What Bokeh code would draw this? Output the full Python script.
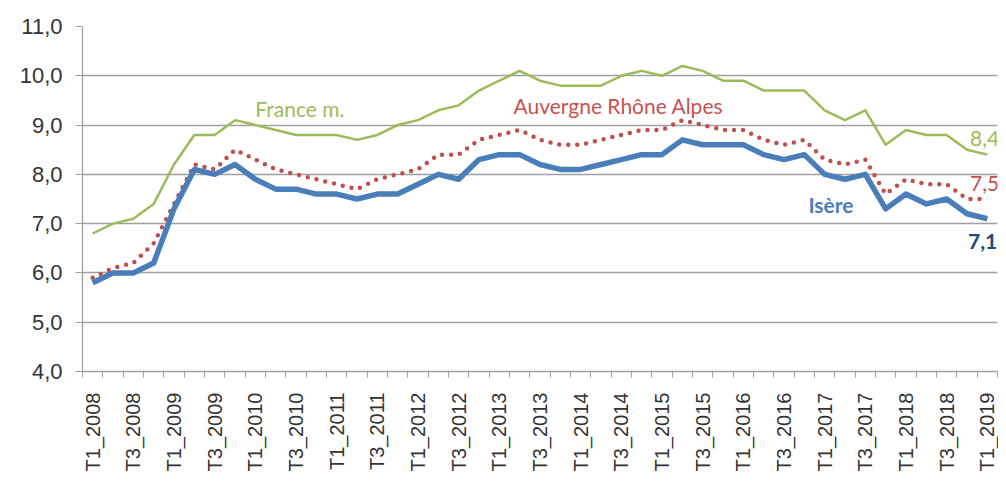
import math
from bokeh.plotting import figure
from bokeh.models import FixedTicker, Range1d, Label
from bokeh.embed import file_html
from bokeh.resources import INLINE

quarters = ["T1_2008", "T2_2008", "T3_2008", "T4_2008",
            "T1_2009", "T2_2009", "T3_2009", "T4_2009",
            "T1_2010", "T2_2010", "T3_2010", "T4_2010",
            "T1_2011", "T2_2011", "T3_2011", "T4_2011",
            "T1_2012", "T2_2012", "T3_2012", "T4_2012",
            "T1_2013", "T2_2013", "T3_2013", "T4_2013",
            "T1_2014", "T2_2014", "T3_2014", "T4_2014",
            "T1_2015", "T2_2015", "T3_2015", "T4_2015",
            "T1_2016", "T2_2016", "T3_2016", "T4_2016",
            "T1_2017", "T2_2017", "T3_2017", "T4_2017",
            "T1_2018", "T2_2018", "T3_2018", "T4_2018",
            "T1_2019"]

france = [6.8, 7.0, 7.1, 7.4, 8.2, 8.8, 8.8, 9.1, 9.0, 8.9, 8.8, 8.8, 8.8, 8.7, 8.8,
          9.0, 9.1, 9.3, 9.4, 9.7, 9.9, 10.1, 9.9, 9.8, 9.8, 9.8, 10.0, 10.1, 10.0, 10.2,
          10.1, 9.9, 9.9, 9.7, 9.7, 9.7, 9.3, 9.1, 9.3, 8.6, 8.9, 8.8, 8.8, 8.5, 8.4]

ara = [5.9, 6.1, 6.2, 6.6, 7.4, 8.2, 8.1, 8.5, 8.3, 8.1, 8.0, 7.9, 7.8, 7.7, 7.9,
       8.0, 8.1, 8.4, 8.4, 8.7, 8.8, 8.9, 8.7, 8.6, 8.6, 8.7, 8.8, 8.9, 8.9, 9.1,
       9.0, 8.9, 8.9, 8.7, 8.6, 8.7, 8.3, 8.2, 8.3, 7.6, 7.9, 7.8, 7.8, 7.5, 7.5]

isere = [5.8, 6.0, 6.0, 6.2, 7.3, 8.1, 8.0, 8.2, 7.9, 7.7, 7.7, 7.6, 7.6, 7.5, 7.6,
         7.6, 7.8, 8.0, 7.9, 8.3, 8.4, 8.4, 8.2, 8.1, 8.1, 8.2, 8.3, 8.4, 8.4, 8.7,
         8.6, 8.6, 8.6, 8.4, 8.3, 8.4, 8.0, 7.9, 8.0, 7.3, 7.6, 7.4, 7.5, 7.2, 7.1]

y_ticks = [4, 5, 6, 7, 8, 9, 10, 11]
y_labels = ["4,0", "5,0", "6,0", "7,0", "8,0", "9,0", "10,0", "11,0"]

x = list(range(len(quarters)))

p = figure(width=998, height=474, output_backend="svg", toolbar_location=None,
           x_range=Range1d(-0.5, len(quarters) - 0.5), y_range=Range1d(4, 11),
           min_border_left=82, min_border_top=26, min_border_right=1, min_border_bottom=102)
p.outline_line_color = None
p.background_fill_color = "white"
p.border_fill_color = "white"

grey = "#A0A0A0"
# x axis
p.xaxis.ticker = FixedTicker(ticks=x[::2], minor_ticks=[i - 0.5 for i in range(len(quarters) + 1)])
p.xaxis.major_label_overrides = {i: quarters[i] for i in x[::2]}
p.xaxis.major_tick_out = 0
p.xaxis.major_tick_in = 0
p.xaxis.minor_tick_out = 6
p.xaxis.minor_tick_in = 0
p.xaxis.minor_tick_line_color = grey
p.xaxis.axis_line_color = grey
p.xaxis.axis_line_width = 1.3
p.xaxis.major_label_orientation = math.pi / 2
p.xaxis.major_label_standoff = 15
p.xaxis.major_label_text_font = "Liberation Sans"
p.xaxis.major_label_text_font_size = "20px"
p.xaxis.major_label_text_color = "#333333"
p.xgrid.visible = False

# y axis
p.yaxis.ticker = FixedTicker(ticks=y_ticks)
p.yaxis.major_label_overrides = dict(zip(y_ticks, y_labels))
p.yaxis.major_tick_out = 7
p.yaxis.major_tick_in = 0
p.yaxis.major_tick_line_color = grey
p.yaxis.minor_tick_line_color = None
p.yaxis.axis_line_color = grey
p.yaxis.axis_line_width = 1.3
p.yaxis.major_label_standoff = 13
p.yaxis.major_label_text_font = "Liberation Sans"
p.yaxis.major_label_text_font_size = "22px"
p.yaxis.major_label_text_color = "#333333"
p.ygrid.ticker = FixedTicker(ticks=y_ticks)
p.ygrid.grid_line_color = grey
p.ygrid.grid_line_width = 1.3

p.line(x, france, line_color="#9BBB59", line_width=2.5, line_join="round")
p.line(x, ara, line_color="#C0504D", line_width=4.5, line_dash="0 9", line_cap="round")
p.line(x, isere, line_color="#4A7EBB", line_width=5.5, line_join="round")

labels = [
    ("France m.", 8.0, 9.34, "#9BBB59", "normal"),
    ("Auvergne Rhône Alpes", 20.7, 9.40, "#C9504F", "normal"),
    ("Isère", 35.2, 7.38, "#4A7EBB", "bold"),
    ("8,4", 43.15, 8.73, "#9BBB59", "normal"),
    ("7,5", 43.15, 7.82, "#C0504D", "normal"),
    ("7,1", 43.05, 6.63, "#1F497D", "bold"),
]
for txt, lx, ly, col, style in labels:
    p.add_layout(Label(x=lx, y=ly, text=txt, text_color=col, text_font="Lato",
                       text_font_size="21px", text_font_style=style,
                       text_baseline="middle", text_align="left"))

open("out.html", "w").write(file_html(p, INLINE))
